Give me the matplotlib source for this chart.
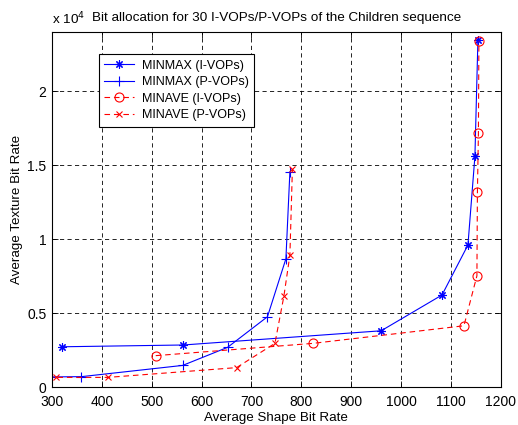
import matplotlib.pyplot as plt
import numpy as np

# data (texture bit rate in bits)
minmax_i_x = [321, 563, 960, 1082, 1134, 1148, 1154]
minmax_i_y = [2720, 2840, 3800, 6220, 9600, 15600, 23450]

minmax_p_x = [296, 359, 562, 652, 732, 769, 777]
minmax_p_y = [680, 700, 1460, 2680, 4750, 8670, 14550]

minave_i_x = [508, 823, 1126, 1152, 1153, 1155, 1156]
minave_i_y = [2120, 2950, 4140, 7520, 13150, 17140, 23360]

minave_p_x = [292, 309, 412, 670, 747, 765, 777, 782]
minave_p_y = [640, 650, 650, 1310, 2950, 6150, 8920, 14730]

plt.rcParams["font.family"] = ["Liberation Sans", "DejaVu Sans"]
plt.rcParams["font.size"] = 9

fig = plt.figure(figsize=(5.18, 4.25), dpi=100)
ax = fig.add_axes([0.1004, 0.0894, 0.8665, 0.8353])

scale = 1e4
dash = (0, (5, 3.5))
ax.plot(minmax_i_x, np.array(minmax_i_y) / scale, color="#0000ff", lw=0.8,
        marker=(8, 2, 0), ms=6, mew=0.8, label="MINMAX (I-VOPs)")
ax.plot(minmax_p_x, np.array(minmax_p_y) / scale, color="#0000ff", lw=0.8,
        marker="+", ms=7, mew=0.8, label="MINMAX (P-VOPs)")
ax.plot(minave_i_x, np.array(minave_i_y) / scale, color="#ff0000", lw=0.8,
        linestyle=dash, marker="o", ms=6.5, mew=0.8, mfc="none",
        label="MINAVE (I-VOPs)")
ax.plot(minave_p_x, np.array(minave_p_y) / scale, color="#ff0000", lw=0.8,
        linestyle=dash, marker="x", ms=4, mew=0.8, label="MINAVE (P-VOPs)")

ax.set_xlim(300, 1200)
ax.set_ylim(0, 2.4)
ax.set_xticks(np.arange(300, 1201, 100))
ax.set_yticks([0, 0.5, 1, 1.5, 2])
ax.set_yticklabels(["0", "0.5", "1", "1.5", "2"])
ax.tick_params(direction="in", length=4, width=0.6, top=True, right=True,
               labelsize=10)
ax.tick_params(axis="x", pad=6)
ax.tick_params(axis="y", pad=4)
ax.grid(True, color="black", linestyle=(0, (5, 4)), linewidth=0.6)
for sp in ax.spines.values():
    sp.set_linewidth(0.8)

ax.set_xlabel("Average Shape Bit Rate", fontsize=9.6, labelpad=2)
ax.set_ylabel("Average Texture Bit Rate", fontsize=9.6, labelpad=3)
ax.set_title("Bit allocation for 30 I-VOPs/P-VOPs of the Children sequence",
             fontsize=9.7, pad=8)
ax.text(0.0, 1.012, r"x 10$^4$", transform=ax.transAxes, fontsize=9.7,
        ha="left", va="bottom")

leg = ax.legend(loc="upper left", bbox_to_anchor=(0.09, 0.955),
                fontsize=9, frameon=True, fancybox=False, framealpha=1,
                edgecolor="black", borderpad=0.45, labelspacing=0.35,
                handlelength=2.4, handletextpad=0.6)
leg.get_frame().set_linewidth(0.8)

fig.savefig("out.png", dpi=100)
